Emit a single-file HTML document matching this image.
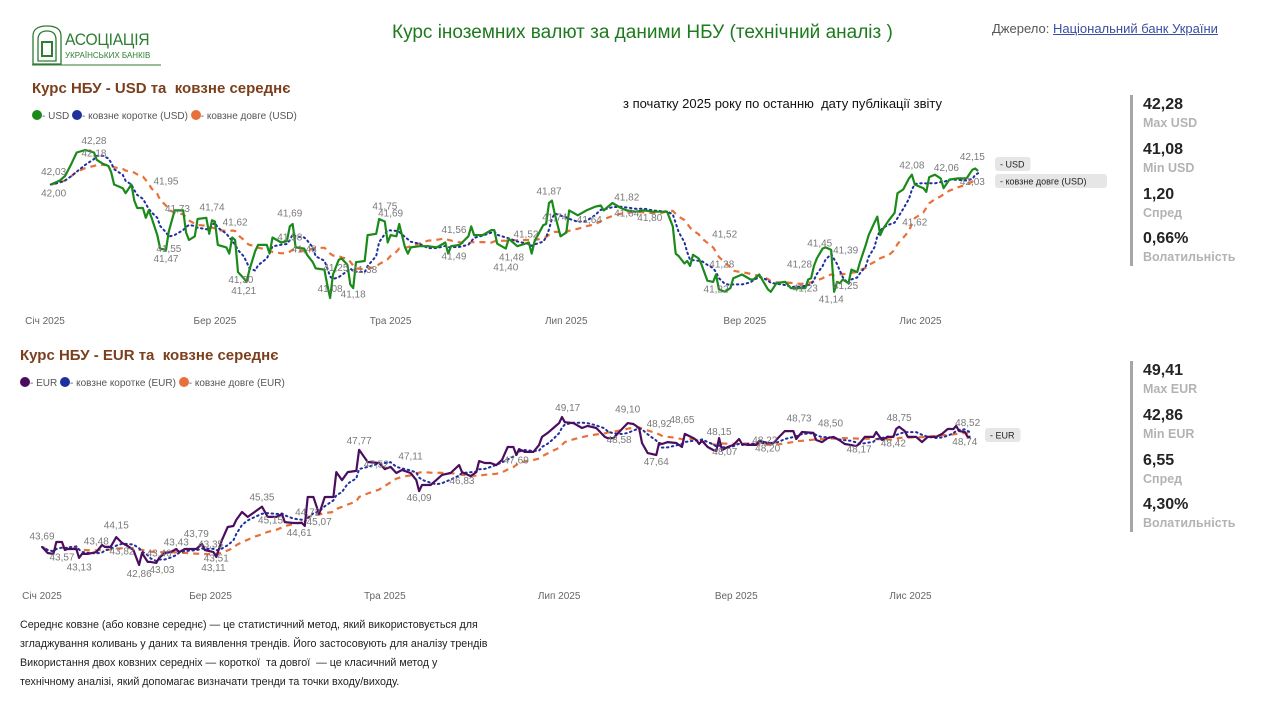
<!DOCTYPE html>
<html lang="uk"><head><meta charset="utf-8">
<style>
*{margin:0;padding:0;box-sizing:border-box}
body{width:1268px;height:708px;overflow:hidden;background:#fff;font-family:"Liberation Sans","DejaVu Sans",sans-serif;position:relative}
.abs{position:absolute;white-space:nowrap}
.kv{font-weight:bold;font-size:16px;color:#252423}
.kl{font-weight:bold;font-size:12.5px;color:#b3b3b3}
.ct{font-weight:bold;font-size:15px;color:#7b3f1d}
.lg{font-size:10px;color:#555}
.dot{display:inline-block;width:10px;height:10px;border-radius:50%;vertical-align:-1px}
.note{font-size:10.7px;color:#222;left:20px}
</style></head><body>

<div class="abs" style="left:31px;top:24px;width:132px;height:42px">
<svg width="132" height="42">
<path d="M2 40 L2 12 Q2 2 16 2 Q30 2 30 12 L30 40 Z" fill="none" stroke="#2e7d32" stroke-width="1.3"/>
<path d="M7 37 L7 16 Q7 7 16 7 Q25 7 25 16 L25 37 Z" fill="none" stroke="#2e7d32" stroke-width="1.3"/>
<rect x="11" y="18" width="10" height="14" fill="none" stroke="#2e7d32" stroke-width="2"/>
<line x1="1" y1="41" x2="130" y2="41" stroke="#2e7d32" stroke-width="1"/>
</svg>
<div class="abs" style="left:34px;top:6px;font-size:17px;color:#2e7d32;letter-spacing:-0.3px;transform:scaleX(0.92);transform-origin:left">АСОЦІАЦІЯ</div>
<div class="abs" style="left:34px;top:27px;font-size:8px;color:#2e7d32">УКРАЇНСЬКИХ БАНКІВ</div>
</div>

<div class="abs" style="left:392px;top:22px;font-size:19px;color:#1e7a1e">Курс іноземних валют за даними НБУ (технічний аналіз )</div>
<div class="abs" style="left:992px;top:21px;font-size:13px;color:#555">Джерело: <span style="color:#3a4fa0;text-decoration:underline">Національний банк України</span></div>

<div class="abs ct" style="left:32px;top:80px">Курс НБУ - USD та&nbsp; ковзне середнє</div>
<div class="abs lg" style="left:32px;top:110px">
<span><span class="dot" style="background:#1a8a1a"></span>- USD</span>
<span><span class="dot" style="background:#1f2fa0"></span>- ковзне коротке (USD)</span>
<span><span class="dot" style="background:#e8703a"></span>- ковзне довге (USD)</span>
</div>
<div class="abs" style="left:623px;top:96px;font-size:13px;color:#111">з початку 2025 року по останню&nbsp; дату публікації звіту</div>

<div class="abs ct" style="left:20px;top:347px">Курс НБУ - EUR та&nbsp; ковзне середнє</div>
<div class="abs lg" style="left:20px;top:377px">
<span><span class="dot" style="background:#4b0e5e"></span>- EUR</span>
<span><span class="dot" style="background:#1f2fa0"></span>- ковзне коротке (EUR)</span>
<span><span class="dot" style="background:#e8703a"></span>- ковзне довге (EUR)</span>
</div>

<div class="abs" style="left:1130px;top:95px;width:3px;height:171px;background:#a6a6a6"></div>
<div class="abs kv" style="left:1143px;top:96px">42,28</div>
<div class="abs kl" style="left:1143px;top:116px">Max USD</div>
<div class="abs kv" style="left:1143px;top:141px">41,08</div>
<div class="abs kl" style="left:1143px;top:161px">Min USD</div>
<div class="abs kv" style="left:1143px;top:186px">1,20</div>
<div class="abs kl" style="left:1143px;top:206px">Спред</div>
<div class="abs kv" style="left:1143px;top:230px">0,66%</div>
<div class="abs kl" style="left:1143px;top:250px">Волатильність</div>

<div class="abs" style="left:1130px;top:361px;width:3px;height:171px;background:#a6a6a6"></div>
<div class="abs kv" style="left:1143px;top:362px">49,41</div>
<div class="abs kl" style="left:1143px;top:382px">Max EUR</div>
<div class="abs kv" style="left:1143px;top:407px">42,86</div>
<div class="abs kl" style="left:1143px;top:427px">Min EUR</div>
<div class="abs kv" style="left:1143px;top:452px">6,55</div>
<div class="abs kl" style="left:1143px;top:472px">Спред</div>
<div class="abs kv" style="left:1143px;top:496px">4,30%</div>
<div class="abs kl" style="left:1143px;top:516px">Волатильність</div>

<div class="abs note" style="top:619px">Середнє ковзне (або ковзне середнє) — це статистичний метод, який використовується для</div>
<div class="abs note" style="top:638px">згладжування коливань у даних та виявлення трендів. Його застосовують для аналізу трендів</div>
<div class="abs note" style="top:657px">Використання двох ковзних середніх — короткої&nbsp; та довгої&nbsp; — це класичний метод у</div>
<div class="abs note" style="top:676px">технічному аналізі, який допомагає визначати тренди та точки входу/виходу.</div>

<svg id="charts" class="abs" style="left:0;top:0" width="1268" height="708"></svg>

<script>
const monthLabels = ["Січ 2025","Бер 2025","Тра 2025","Лип 2025","Вер 2025","Лис 2025"];
const monthDays = [0,59,120,181,243,304];

const usdDays = [2,5,7,9,11,14,17,18,20,22,23,24,27,28,30,31,32,34,35,36,37,39,40,42,43,45,48,49,50,52,53,56,57,58,59,60,63,64,65,66,67,69,70,71,73,74,77,78,79,82,84,85,86,87,90,91,93,94,97,98,99,100,102,103,105,106,107,108,111,112,115,116,118,119,120,122,123,125,126,127,130,133,136,139,140,141,144,147,148,149,152,155,156,157,160,161,164,168,169,170,173,174,175,176,177,179,181,182,185,188,191,193,194,197,200,202,205,208,211,214,216,218,219,220,222,223,224,225,227,228,230,232,233,234,236,238,239,242,245,246,248,249,251,252,254,257,259,262,264,265,266,267,268,270,271,273,274,275,276,277,279,280,282,283,285,286,288,289,290,291,293,295,296,298,300,301,302,305,306,307,309,311,312,314,317,320,322,323,324];
const usdValues = [42.00,42.03,42.07,42.16,42.26,42.28,42.26,42.20,42.17,42.15,42.10,42.00,41.97,41.93,42.00,41.87,41.81,41.81,41.73,41.79,41.73,41.59,41.48,41.47,41.62,41.79,41.79,41.61,41.55,41.58,41.72,41.73,41.60,41.71,41.70,41.51,41.49,41.44,41.57,41.55,41.29,41.24,41.21,41.31,41.46,41.51,41.51,41.44,41.57,41.53,41.54,41.66,41.68,41.49,41.48,41.43,41.37,41.32,41.31,41.19,41.08,41.27,41.39,41.40,41.35,41.19,41.16,41.37,41.38,41.59,41.60,41.72,41.70,41.53,41.59,41.58,41.68,41.49,41.44,41.49,41.50,41.50,41.49,41.53,41.44,41.50,41.51,41.58,41.66,41.59,41.59,41.63,41.63,41.52,41.48,41.56,41.50,41.53,41.44,41.54,41.67,41.68,41.85,41.87,41.76,41.58,41.61,41.79,41.75,41.79,41.82,41.83,41.79,41.85,41.81,41.79,41.78,41.79,41.78,41.78,41.78,41.66,41.44,41.42,41.36,41.38,41.34,41.43,41.40,41.35,41.22,41.21,41.27,41.15,41.13,41.16,41.24,41.27,41.23,41.23,41.27,41.23,41.15,41.13,41.20,41.21,41.16,41.16,41.16,41.23,41.24,41.34,41.40,41.48,41.49,41.47,41.13,41.21,41.20,41.23,41.20,41.31,41.29,41.37,41.51,41.59,41.69,41.74,41.59,41.64,41.71,41.77,41.93,41.96,42.05,42.08,42.00,41.97,41.94,42.06,42.08,42.05,41.97,42.04,42.05,42.05,42.12,42.13,42.11];
const usdLabelDays = [3,3,17,17,42,43,42,46,58,66,68,69,85,85,90,101,99,107,111,118,120,142,142,162,160,167,175,177,189,202,202,210,236,235,233,264,262,269,273,278,278,301,313,322,322,302];
const usdLabelVals = [42.03,42.00,42.28,42.18,41.95,41.55,41.47,41.73,41.74,41.62,41.30,41.21,41.69,41.58,41.48,41.25,41.08,41.18,41.38,41.75,41.69,41.56,41.49,41.48,41.40,41.52,41.87,41.74,41.64,41.82,41.84,41.80,41.52,41.28,41.22,41.23,41.28,41.45,41.14,41.25,41.39,42.08,42.06,42.15,42.03,41.62];
const usdLabelSide = ["a","b","a","a","a","b","b","a","a","a","b","b","a","m","m","a","a","b","b","a","a","a","b","b","b","a","a","m","a","a","b","b","a","a","b","b","a","a","b","b","a","a","a","a","m","a"];

const eurDays = [0,2,4,5,7,8,9,12,13,14,16,19,21,22,24,26,28,30,32,34,35,37,38,40,41,43,45,47,48,50,54,56,57,60,61,63,65,67,68,70,72,74,77,79,82,84,85,88,91,92,93,95,97,99,102,103,105,107,110,111,114,118,120,122,124,126,129,131,132,133,136,138,140,143,146,147,150,152,153,155,157,159,161,163,165,166,167,169,172,174,175,177,179,181,182,183,186,189,191,194,197,198,200,203,205,207,209,210,212,215,216,217,219,222,224,225,228,229,230,231,233,235,236,237,238,240,242,244,245,247,250,251,254,256,258,260,263,264,266,270,271,273,275,277,279,281,283,285,286,288,291,292,294,296,298,299,300,302,303,306,308,310,313,315,317,319,320,321,323,324,325];
const eurValues = [43.63,43.37,43.33,43.84,43.84,43.50,43.54,43.54,43.16,43.33,43.33,43.41,43.71,43.63,43.63,44.05,43.80,43.67,43.50,42.86,43.37,42.99,42.99,42.95,43.16,43.37,43.41,43.54,43.41,43.54,43.54,43.76,43.50,43.41,43.20,43.93,44.48,44.52,44.78,45.12,44.91,45.08,45.35,44.91,44.91,45.03,44.69,44.65,44.65,44.52,45.76,45.76,45.03,45.76,45.76,46.82,46.48,46.82,46.87,47.77,47.25,47.21,46.95,47.04,46.78,46.91,46.78,46.48,46.01,46.27,46.27,46.48,46.70,46.78,47.12,46.82,46.65,46.82,47.29,47.21,47.21,47.12,47.34,47.89,47.89,47.55,47.80,47.68,47.68,47.98,48.32,48.49,48.70,48.91,49.17,48.95,48.91,48.70,48.79,48.70,48.32,48.27,48.27,48.66,48.91,48.87,48.70,48.06,47.63,47.55,48.06,48.02,48.10,48.06,47.89,48.45,48.27,48.19,48.02,48.15,47.89,47.76,47.72,48.27,47.76,47.89,47.98,48.23,48.02,47.98,47.98,48.15,48.06,48.06,48.32,48.57,48.57,48.23,48.53,48.49,48.19,48.10,48.27,48.32,48.19,48.02,47.98,47.93,48.02,48.32,48.32,48.53,48.19,48.32,48.32,48.66,48.75,48.57,48.32,48.32,48.10,48.32,48.32,48.45,48.66,48.66,48.79,48.57,48.53,48.32,48.32];
const eurLabelDays = [0,7,13,26,19,28,34,41,42,47,54,59,61,60,77,80,90,93,97,111,117,129,132,147,166,184,205,202,215,216,224,237,239,253,254,265,276,286,300,298,324,323];
const eurLabelVals = [43.69,43.57,43.13,44.15,43.48,43.82,42.86,43.40,43.03,43.43,43.79,43.35,43.51,43.11,45.35,45.15,44.61,44.72,45.07,47.77,47.52,47.11,46.09,46.83,47.69,49.17,49.10,48.58,47.64,48.92,48.65,48.15,48.07,48.22,48.20,48.73,48.50,48.17,48.75,48.42,48.52,48.74];
const eurLabelSide = ["a","b","b","a","a","b","b","m","b","a","a","a","b","b","a","b","b","a","b","a","b","a","b","b","b","a","a","b","b","m","a","a","b","m","b","a","a","b","a","b","a","bb"];

const NS = "http://www.w3.org/2000/svg";
const svg = document.getElementById("charts");
function mk(tag, attrs){const e=document.createElementNS(NS,tag);for(const k in attrs)e.setAttribute(k,attrs[k]);svg.appendChild(e);return e;}
function movAvg(vals,w){return vals.map((v,i)=>{const s=Math.max(0,i-w+1);let t=0;for(let j=s;j<=i;j++)t+=vals[j];return t/(i-s+1);});}
function fmt(v){return v.toFixed(2).replace(".",",");}

function drawChart(key, days, vals, lDays, lVals, lSide, xs, ys, lineColor, axisY, tags){
  const pts = (arr)=>days.map((d,i)=>xs(d).toFixed(1)+","+ys(arr[i]).toFixed(1)).join(" ");
  const longMA = movAvg(vals,15), shortMA = movAvg(vals,5);
  let e = mk("polyline",{points:pts(longMA),fill:"none",stroke:"#e8703a","stroke-width":2.2,"stroke-dasharray":"6 5"});
  
  
  e = mk("polyline",{points:pts(shortMA),fill:"none",stroke:"#1f2fa0","stroke-width":2,"stroke-dasharray":"1.5 3.5","stroke-linecap":"round"});
  
  
  e = mk("polyline",{points:pts(vals),fill:"none",stroke:lineColor,"stroke-width":2.2,"stroke-linejoin":"round"});
  
  
  lDays.forEach((d,i)=>{
    const off = {a:-6,b:12,m:4,bb:18}[lSide[i]];
    const t = mk("text",{x:xs(d),y:ys(lVals[i])+off,"text-anchor":"middle","font-size":"10","fill":"#7a7a7a","font-family":"Liberation Sans, sans-serif"});
    t.textContent = fmt(lVals[i]);
    
    
  });
  monthDays.forEach((d,i)=>{
    const t = mk("text",{x:xs(d),y:axisY,"text-anchor":"middle","font-size":"10","fill":"#666","font-family":"Liberation Sans, sans-serif"});
    t.textContent = monthLabels[i];
    
    
  });
  tags.forEach(tg=>{
    const w = tg.text.length*5.1+10;
    const r = mk("rect",{x:tg.x,y:tg.y,width:w,height:14,rx:3,fill:"#e6e6e6"});
    
    
    const t = mk("text",{x:tg.x+5,y:tg.y+10.5,"font-size":"9","fill":"#222","font-family":"Liberation Sans, sans-serif"});
    t.textContent = tg.text;
    
    
  });
}

drawChart("usd", usdDays, usdValues, usdLabelDays, usdLabelVals, usdLabelSide,
  d=>45+d*2.88, v=>150+(42.28-v)*123.3, "#1a8a1a", 324,
  [{x:995,y:157,text:"- USD"},{x:995,y:174,text:"- ковзне довге (USD)"}]);
drawChart("eur", eurDays, eurValues, eurLabelDays, eurLabelVals, eurLabelSide,
  d=>42+d*2.857, v=>417+(49.17-v)*23.45, "#4b0e5e", 599,
  [{x:985,y:428,text:"- EUR"}]);
</script>
</body></html>
